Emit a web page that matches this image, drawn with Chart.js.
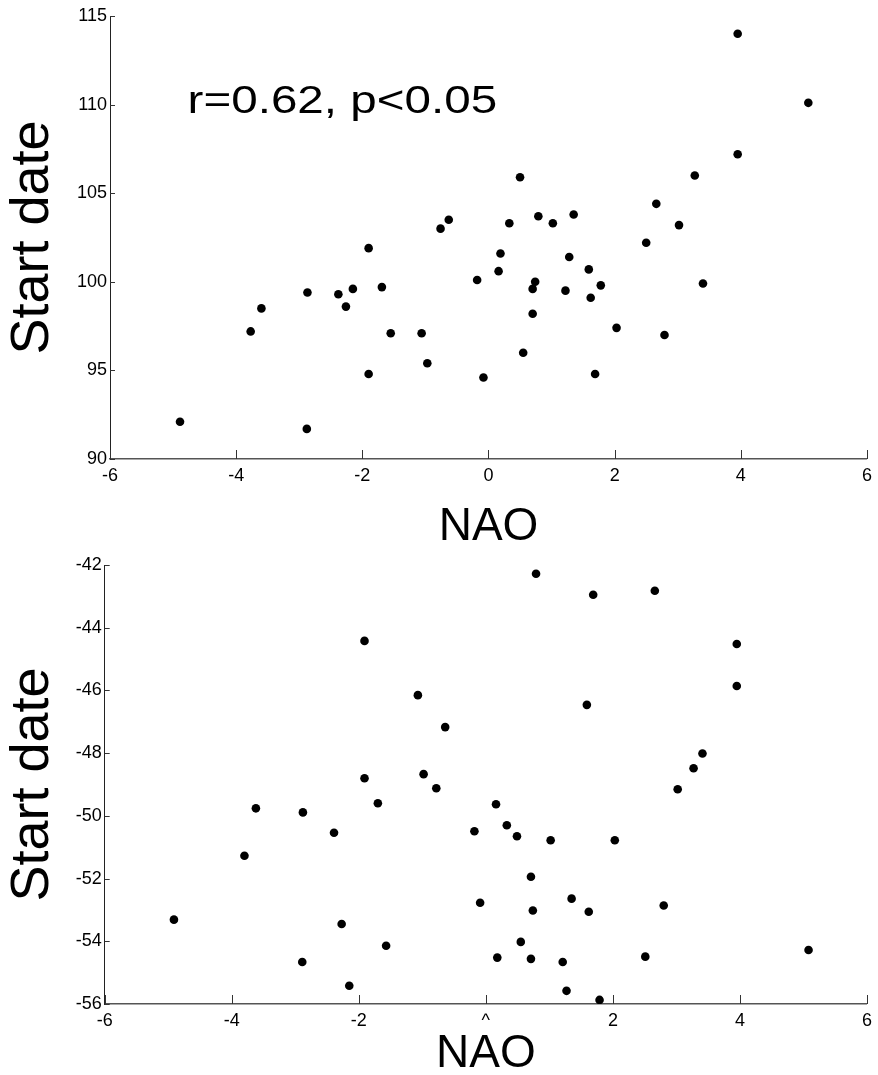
<!DOCTYPE html>
<html>
<head>
<meta charset="utf-8">
<script src="https://cdn.jsdelivr.net/npm/chart.js@4.4.1/dist/chart.umd.min.js"></script>
<style>
  html, body { margin: 0; padding: 0; background: #ffffff; overflow: hidden; width: 878px; height: 1075px; }
  canvas { position: absolute; left: 0; }
  #top { top: 0px; }
  #bottom { top: 530px; }
</style>
</head>
<body>
<canvas id="top" width="878" height="560"></canvas>
<canvas id="bottom" width="878" height="570"></canvas>
<script>
// ---- data ----
const topNao = [3.95, 5.07, 3.95, 3.27, 2.66, 3.02, 2.50, 0.50, 0.33, 0.79, 1.02, 1.35, -0.63, -0.76,
  -1.90, -2.87, -2.38, -2.15, -2.26, -1.69, -3.60, -3.77, -1.55, -1.06, -0.97, -1.90, -4.89, -2.88,
  0.19, 0.16, -0.18, 1.28, 1.59, 0.74, 0.70, 1.78, 1.22, 1.62, 3.40, 0.70, 2.03, 2.79, 0.55, -0.08, 1.69];
const topStart = [114.0, 110.1, 107.2, 106.0, 104.4, 103.2, 102.2, 105.9, 103.3, 103.7, 103.3, 103.8, 103.5, 103.0,
  101.9, 99.4, 99.3, 99.6, 98.6, 99.7, 98.5, 97.2, 97.1, 97.1, 95.4, 94.8, 92.1, 91.7,
  101.6, 100.6, 100.1, 101.4, 100.7, 100.0, 99.6, 99.8, 99.5, 99.1, 99.9, 98.2, 97.4, 97.0, 96.0, 94.6, 94.8];

const bottomNao = [-1.91, -1.07, -1.91, -0.98, -1.70, -0.78, 0.79, 1.69, 2.66, 3.95, 3.95, 1.59, -0.64, 3.41,
  3.27, 3.02, 0.16, -3.62, -2.88, -2.39, -3.80, -4.91, -2.27, -1.57, -2.89, -2.15, -0.18, 0.33, 0.49,
  1.02, 2.03, 0.71, -0.09, 1.35, 0.74, 1.62, 2.80, 0.55, 0.18, 0.71, 1.21, 2.51, 5.08, 1.27, 1.79];
const bottomStart = [-44.42, -46.15, -48.80, -48.67, -49.60, -49.12, -42.28, -42.95, -42.82, -44.52, -45.86, -46.46, -47.17, -48.01,
  -48.48, -49.15, -49.63, -49.76, -49.89, -50.54, -51.27, -53.31, -53.45, -54.14, -54.66, -55.42, -50.49, -50.30, -50.65,
  -50.78, -50.78, -51.94, -52.77, -52.64, -53.02, -53.06, -52.86, -54.02, -54.52, -54.56, -54.66, -54.49, -54.28, -55.58, -55.87];

const naoTicks = [-6, -4, -2, 0, 2, 4, 6];
const topYTicks = [90, 95, 100, 105, 110, 115];
const bottomYTicks = [-56, -54, -52, -50, -48, -46, -44, -42];
const bottomXTickLabels = ['-6', '-4', '-2', '^', '2', '4', '6'];
const xTitle = 'NAO';
const yTitle = 'Start date';
const statText = 'r=0.62, p<0.05';

// ---- rendering ----
Chart.defaults.font.family = "'Liberation Sans', Arial, Helvetica, sans-serif";
Chart.defaults.color = '#000000';

const innerTicks = {
  id: 'innerTicks',
  afterDatasetsDraw(chart, args, opts) {
    const { ctx, chartArea } = chart;
    const xs = chart.scales.x, ys = chart.scales.y;
    ctx.save();
    ctx.strokeStyle = '#333333';
    ctx.lineWidth = 1;
    xs.ticks.forEach(t => {
      const px = Math.round(xs.getPixelForValue(t.value)) + 0.5;
      ctx.beginPath();
      ctx.moveTo(px, chartArea.bottom);
      ctx.lineTo(px, chartArea.bottom - opts.xLen);
      ctx.stroke();
    });
    ys.ticks.forEach(t => {
      const py = Math.round(ys.getPixelForValue(t.value)) + 0.5;
      ctx.beginPath();
      ctx.moveTo(chartArea.left, py);
      ctx.lineTo(chartArea.left + opts.yLen, py);
      ctx.stroke();
    });
    ctx.restore();
  }
};

const statLabel = {
  id: 'statLabel',
  afterDatasetsDraw(chart, args, opts) {
    if (!opts.text) return;
    const { ctx } = chart;
    const px = chart.scales.x.getPixelForValue(opts.xVal);
    const py = chart.scales.y.getPixelForValue(opts.yVal);
    ctx.save();
    ctx.fillStyle = '#000000';
    ctx.font = opts.size + "px 'Liberation Sans', Arial, sans-serif";
    ctx.textBaseline = 'alphabetic';
    ctx.textAlign = 'left';
    ctx.translate(px, py);
    ctx.scale(opts.stretch, 1);
    ctx.fillText(opts.text, 0, 0);
    ctx.restore();
  }
};

function makeChart(id, xs, ys, cfg) {
  const pts = xs.map((x, i) => ({ x: x, y: ys[i] }));
  return new Chart(document.getElementById(id), {
    type: 'scatter',
    data: {
      datasets: [{
        data: pts,
        backgroundColor: '#000000',
        borderWidth: 0,
        pointRadius: 4.3,
        pointHoverRadius: 4.3
      }]
    },
    options: {
      responsive: false,
      animation: false,
      events: [],
      layout: { padding: cfg.padding },
      plugins: {
        legend: { display: false },
        tooltip: { enabled: false },
        innerTicks: { xLen: 9, yLen: 5 },
        statLabel: cfg.stat || {}
      },
      scales: {
        x: {
          type: 'linear',
          min: naoTicks[0],
          max: naoTicks[naoTicks.length - 1],
          afterBuildTicks: (s) => { s.ticks = naoTicks.map(v => ({ value: v })); },
          afterFit: (s) => { s.height = cfg.xHeight; },
          grid: { display: false, drawTicks: false },
          border: { display: true, color: '#555555', width: 1.5 },
          ticks: {
            font: { size: 18 },
            padding: cfg.xTickPad,
            maxRotation: 0,
            autoSkip: false,
            callback: (v, i) => cfg.xLabels ? cfg.xLabels[i] : String(v)
          },
          title: {
            display: true,
            text: xTitle,
            font: { size: 46 },
            padding: { top: 0, bottom: cfg.xTitlePad }
          }
        },
        y: {
          type: 'linear',
          min: cfg.yTicks[0],
          max: cfg.yTicks[cfg.yTicks.length - 1],
          afterBuildTicks: (s) => { s.ticks = cfg.yTicks.map(v => ({ value: v })); },
          afterFit: (s) => { s.width = cfg.yWidth; },
          grid: { display: false, drawTicks: false },
          border: { display: true, color: '#222222', width: 1 },
          ticks: {
            font: { size: 18 },
            padding: 3,
            autoSkip: false,
            callback: (v) => String(v)
          },
          title: {
            display: true,
            text: yTitle,
            font: { size: 54 },
            padding: { top: 1, bottom: 0 }
          }
        }
      }
    },
    plugins: [innerTicks, statLabel]
  });
}

makeChart('top', topNao, topStart, {
  padding: { top: 16, right: 6, left: 0, bottom: 0 },
  xHeight: 101, yWidth: 110, xTickPad: 6, xTitlePad: 5,
  yTicks: topYTicks,
  stat: { text: statText, xVal: -4.77, yVal: 109.5, size: 39, stretch: 1.22 }
});

makeChart('bottom', bottomNao, bottomStart, {
  padding: { top: 35, right: 5, left: 0, bottom: 0 },
  xHeight: 96, yWidth: 104.7, xTickPad: 6, xTitlePad: 18,
  yTicks: bottomYTicks,
  xLabels: bottomXTickLabels
});
</script>
</body>
</html>
